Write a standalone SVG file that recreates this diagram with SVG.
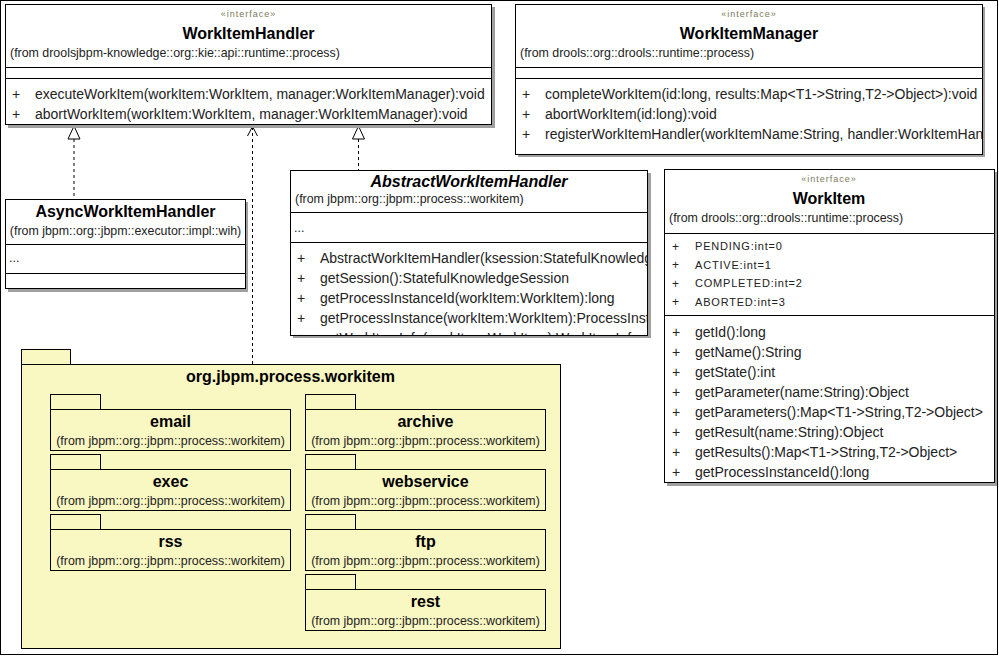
<svg xmlns="http://www.w3.org/2000/svg" width="999" height="656" viewBox="0 0 999 656">
<style>
text{font-family:"Liberation Sans",Arial,sans-serif;fill:#1a1a1a}
.st{font-size:9px;letter-spacing:1px;fill:#7a7a5a}
.ti{font-size:16px;font-weight:bold;fill:#000}
.tii{font-size:16px;font-weight:bold;font-style:italic;fill:#000}
.fr{font-size:12.4px;fill:#222}
.m{font-size:14px;fill:#222}
.p{font-size:12px;fill:#222}
.a{font-size:11px;letter-spacing:0.8px;fill:#222}
.box{fill:#fff;stroke:#000;stroke-width:1}
.sh{fill:#a0a0a0}
.ln{stroke:#000;stroke-width:1}
.pk{fill:#f9f7c2;stroke:#000;stroke-width:1}
.dep{stroke:#000;stroke-width:1;stroke-dasharray:3,3;fill:none}
.tri{fill:#fff;stroke:#000;stroke-width:1}
.c{text-anchor:middle}
</style>
<defs>
<clipPath id="cpM"><rect x="515" y="4" width="467" height="150"/></clipPath>
<clipPath id="cpA"><rect x="290" y="170" width="357" height="165"/></clipPath>
</defs>
<rect x="0.5" y="0.5" width="997" height="654" fill="#fff" stroke="#000"/>

<g id="connectors">
<line class="dep" x1="74" y1="139" x2="74" y2="199"/>
<polygon class="tri" points="74,126 68,139 80,139"/>
<line class="dep" x1="358.5" y1="139" x2="358.5" y2="170"/>
<polygon class="tri" points="358.5,126 352.5,139 364.5,139"/>
<line class="dep" x1="252.5" y1="127" x2="252.5" y2="364"/>
<polyline points="247.5,136 252.5,126.5 257.5,136" fill="none" stroke="#000"/>
</g>

<g id="WorkItemHandler">
<rect class="sh" x="8" y="7" width="487" height="121"/>
<rect class="box" x="5.5" y="4.5" width="486" height="120"/>
<text class="st c" x="248.5" y="17">«interface»</text>
<text class="ti c" x="248.5" y="39">WorkItemHandler</text>
<text class="fr" x="10" y="57">(from droolsjbpm-knowledge::org::kie::api::runtime::process)</text>
<line class="ln" x1="5.5" y1="67.5" x2="491.5" y2="67.5"/>
<line class="ln" x1="5.5" y1="78.5" x2="491.5" y2="78.5"/>
<text class="m" x="12" y="99">+</text>
<text class="m" x="35" y="99">executeWorkItem(workItem:WorkItem, manager:WorkItemManager):void</text>
<text class="m" x="12" y="119">+</text>
<text class="m" x="35" y="119">abortWorkItem(workItem:WorkItem, manager:WorkItemManager):void</text>
</g>

<g id="WorkItemManager">
<rect class="sh" x="518" y="7" width="467" height="150"/>
<rect class="box" x="515.5" y="4.5" width="467" height="150"/>
<text class="st c" x="749" y="17">«interface»</text>
<text class="ti c" x="749" y="39">WorkItemManager</text>
<text class="fr" x="520" y="57">(from drools::org::drools::runtime::process)</text>
<line class="ln" x1="515.5" y1="67.5" x2="982.5" y2="67.5"/>
<line class="ln" x1="515.5" y1="78.5" x2="982.5" y2="78.5"/>
<g clip-path="url(#cpM)">
<text class="m" x="522" y="99">+</text>
<text class="m" x="545" y="99">completeWorkItem(id:long, results:Map&lt;T1-&gt;String,T2-&gt;Object&gt;):void</text>
<text class="m" x="522" y="119">+</text>
<text class="m" x="545" y="119">abortWorkItem(id:long):void</text>
<text class="m" x="522" y="139">+</text>
<text class="m" x="545" y="139">registerWorkItemHandler(workItemName:String, handler:WorkItemHandler):void</text>
</g>
</g>

<g id="AsyncWorkItemHandler">
<rect class="sh" x="8" y="202" width="240" height="90"/>
<rect class="box" x="5.5" y="199.5" width="240" height="89"/>
<text class="ti c" x="125.5" y="217">AsyncWorkItemHandler</text>
<text class="fr c" x="125.5" y="235">(from jbpm::org::jbpm::executor::impl::wih)</text>
<line class="ln" x1="5.5" y1="244.5" x2="245.5" y2="244.5"/>
<text class="fr" x="9" y="262">...</text>
<line class="ln" x1="5.5" y1="273.5" x2="245.5" y2="273.5"/>
</g>

<g id="AbstractWorkItemHandler">
<rect class="sh" x="293" y="173" width="358" height="165"/>
<rect class="box" x="290.5" y="170.5" width="357" height="165"/>
<text class="tii c" x="469" y="187">AbstractWorkItemHandler</text>
<text class="fr" x="295" y="203">(from jbpm::org::jbpm::process::workitem)</text>
<line class="ln" x1="290.5" y1="212.5" x2="647.5" y2="212.5"/>
<text class="fr" x="294" y="232">...</text>
<line class="ln" x1="290.5" y1="242.5" x2="647.5" y2="242.5"/>
<g clip-path="url(#cpA)">
<text class="m" x="297" y="263">+</text>
<text class="m" x="320" y="263">AbstractWorkItemHandler(ksession:StatefulKnowledgeSession)</text>
<text class="m" x="297" y="283">+</text>
<text class="m" x="320" y="283">getSession():StatefulKnowledgeSession</text>
<text class="m" x="297" y="303">+</text>
<text class="m" x="320" y="303">getProcessInstanceId(workItem:WorkItem):long</text>
<text class="m" x="297" y="323">+</text>
<text class="m" x="320" y="323">getProcessInstance(workItem:WorkItem):ProcessInstance</text>
<text class="m" x="297" y="343">+</text>
<text class="m" x="320" y="343">getWorkItemInfo(workItem:WorkItem):WorkItemInfo</text>
</g>
<rect x="290.5" y="170.5" width="357" height="165" fill="none" stroke="#000"/>
</g>

<g id="WorkItem">
<rect class="sh" x="667" y="172" width="330" height="314"/>
<rect class="box" x="664.5" y="169.5" width="330" height="313"/>
<text class="st c" x="829" y="182">«interface»</text>
<text class="ti c" x="829" y="204">WorkItem</text>
<text class="fr" x="669" y="222">(from drools::org::drools::runtime::process)</text>
<line class="ln" x1="664.5" y1="233.5" x2="994.5" y2="233.5"/>
<text class="p" x="672" y="250.5">+</text>
<text class="a" x="695" y="250">PENDING:int=0</text>
<text class="p" x="672" y="269">+</text>
<text class="a" x="695" y="268.5">ACTIVE:int=1</text>
<text class="p" x="672" y="287.5">+</text>
<text class="a" x="695" y="287">COMPLETED:int=2</text>
<text class="p" x="672" y="306">+</text>
<text class="a" x="695" y="305.5">ABORTED:int=3</text>
<line class="ln" x1="664.5" y1="315.5" x2="994.5" y2="315.5"/>
<text class="m" x="672" y="337">+</text>
<text class="m" x="695" y="337">getId():long</text>
<text class="m" x="672" y="357">+</text>
<text class="m" x="695" y="357">getName():String</text>
<text class="m" x="672" y="377">+</text>
<text class="m" x="695" y="377">getState():int</text>
<text class="m" x="672" y="397">+</text>
<text class="m" x="695" y="397">getParameter(name:String):Object</text>
<text class="m" x="672" y="417">+</text>
<text class="m" x="695" y="417">getParameters():Map&lt;T1-&gt;String,T2-&gt;Object&gt;</text>
<text class="m" x="672" y="437">+</text>
<text class="m" x="695" y="437">getResult(name:String):Object</text>
<text class="m" x="672" y="457">+</text>
<text class="m" x="695" y="457">getResults():Map&lt;T1-&gt;String,T2-&gt;Object&gt;</text>
<text class="m" x="672" y="477">+</text>
<text class="m" x="695" y="477">getProcessInstanceId():long</text>
</g>

<g id="pkg_workitem">
<rect class="pk" x="21.5" y="349.5" width="49" height="15"/>
<rect class="pk" x="21.5" y="364.5" width="539" height="284"/>
<text class="ti c" x="290.5" y="382">org.jbpm.process.workitem</text>
</g>

<g id="pkg_email">
<rect class="pk" x="50.5" y="394.5" width="50" height="15"/>
<rect class="pk" x="50.5" y="409.5" width="240" height="41"/>
<text class="ti c" x="170.5" y="427">email</text>
<text class="fr c" x="170.5" y="445">(from jbpm::org::jbpm::process::workitem)</text>
</g>
<g id="pkg_exec">
<rect class="pk" x="50.5" y="454.5" width="50" height="15"/>
<rect class="pk" x="50.5" y="469.5" width="240" height="41"/>
<text class="ti c" x="170.5" y="487">exec</text>
<text class="fr c" x="170.5" y="505">(from jbpm::org::jbpm::process::workitem)</text>
</g>
<g id="pkg_rss">
<rect class="pk" x="50.5" y="514.5" width="50" height="15"/>
<rect class="pk" x="50.5" y="529.5" width="240" height="41"/>
<text class="ti c" x="170.5" y="547">rss</text>
<text class="fr c" x="170.5" y="565">(from jbpm::org::jbpm::process::workitem)</text>
</g>
<g id="pkg_archive">
<rect class="pk" x="305.5" y="394.5" width="50" height="15"/>
<rect class="pk" x="305.5" y="409.5" width="240" height="41"/>
<text class="ti c" x="425.5" y="427">archive</text>
<text class="fr c" x="425.5" y="445">(from jbpm::org::jbpm::process::workitem)</text>
</g>
<g id="pkg_webservice">
<rect class="pk" x="305.5" y="454.5" width="50" height="15"/>
<rect class="pk" x="305.5" y="469.5" width="240" height="41"/>
<text class="ti c" x="425.5" y="487">webservice</text>
<text class="fr c" x="425.5" y="505">(from jbpm::org::jbpm::process::workitem)</text>
</g>
<g id="pkg_ftp">
<rect class="pk" x="305.5" y="514.5" width="50" height="15"/>
<rect class="pk" x="305.5" y="529.5" width="240" height="41"/>
<text class="ti c" x="425.5" y="547">ftp</text>
<text class="fr c" x="425.5" y="565">(from jbpm::org::jbpm::process::workitem)</text>
</g>
<g id="pkg_rest">
<rect class="pk" x="305.5" y="574.5" width="50" height="15"/>
<rect class="pk" x="305.5" y="589.5" width="240" height="41"/>
<text class="ti c" x="425.5" y="607">rest</text>
<text class="fr c" x="425.5" y="625">(from jbpm::org::jbpm::process::workitem)</text>
</g>
</svg>
